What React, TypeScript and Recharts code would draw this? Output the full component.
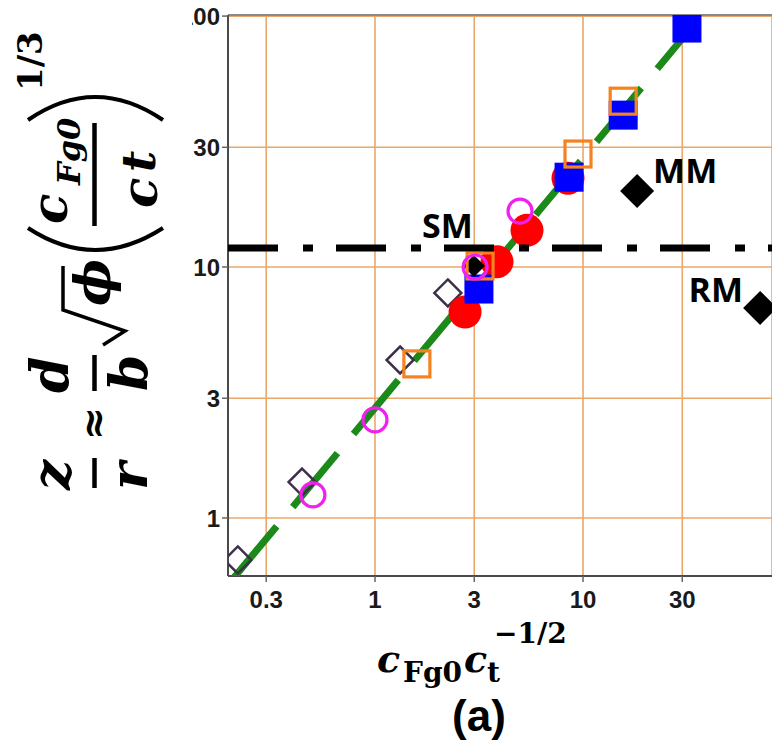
import React from 'react';
import { ScatterChart, Scatter, XAxis, YAxis, CartesianGrid, ReferenceLine } from 'recharts';

// ---- axes ----
const xTicks = [0.3, 1, 3, 10, 30];
const yTicks = [1, 3, 10, 30, 100];
const xDomain = [0.1965, 81];
const yDomain = [0.587, 101];

// ---- series ----
const openDiamondX = [0.219, 0.446, 1.32, 2.24];
const openDiamondY = [0.68, 1.39, 4.26, 7.88];

const openCircleX = [0.503, 1.0, 3.03, 4.98];
const openCircleY = [1.235, 2.46, 10.0, 16.7];

const redCircleX = [2.71, 3.86, 5.38, 8.47];
const redCircleY = [6.62, 10.5, 14.0, 22.6];

const blueSquareX = [3.16, 8.57, 15.6, 31.6];
const blueSquareY = [8.17, 22.8, 40.3, 89.6];

const openSquareX = [1.59, 3.2, 9.46, 15.6];
const openSquareY = [4.11, 10.1, 28.2, 45.8];

const modelLabels = ['SM', 'MM', 'RM'];
const modelX = [2.99, 18.2, 71];
const modelY = [10.1, 20.1, 6.87];

const fitX = [0.2053, 31.0];
const fitY = [0.566, 84];

const smLevelX = [0.1965, 81];
const smLevelY = [11.9, 11.9];

const pts = (xs: number[], ys: number[]) => xs.map((x, i) => ({ x, y: ys[i] }));

const openDiamondData = pts(openDiamondX, openDiamondY);
const openCircleData = pts(openCircleX, openCircleY);
const redCircleData = pts(redCircleX, redCircleY);
const blueSquareData = pts(blueSquareX, blueSquareY);
const openSquareData = pts(openSquareX, openSquareY);
const fitData = pts(fitX, fitY);
const smLevelData = pts(smLevelX, smLevelY);
const modelData = modelLabels.map((label, i) => ({ x: modelX[i], y: modelY[i], label }));

const modelStyle: Record<string, { half: number; dx: number; dy: number; anchor: 'start' | 'end' }> = {
  SM: { half: 11, dx: -52, dy: -28, anchor: 'start' },
  MM: { half: 17, dx: 16, dy: -8, anchor: 'start' },
  RM: { half: 17, dx: -17, dy: -6, anchor: 'end' },
};

// ---- shapes ----
const diamondPath = (cx: number, cy: number, h: number) =>
  `M${cx},${cy - h} L${cx + h},${cy} L${cx},${cy + h} L${cx - h},${cy} Z`;

const OpenDiamond = (p: any) => (
  <path d={diamondPath(p.cx, p.cy, 13.5)} fill="none" stroke="#3e3048" strokeWidth={2.5} />
);
const OpenCircle = (p: any) => (
  <circle cx={p.cx} cy={p.cy} r={12} fill="none" stroke="#f020ee" strokeWidth={3.2} />
);
const RedCircle = (p: any) => <circle cx={p.cx} cy={p.cy} r={16.5} fill="#ff0000" />;
const BlueSquare = (p: any) => (
  <rect x={p.cx - 14.5} y={p.cy - 14.5} width={29} height={29} fill="#0000ff" />
);
const OpenSquare = (p: any) => (
  <rect x={p.cx - 13} y={p.cy - 13} width={26} height={26} fill="none" stroke="#f5821f" strokeWidth={3.2} />
);
const ModelDiamond = (p: any) => {
  const s = modelStyle[p.payload.label];
  return (
    <g>
      <path d={diamondPath(p.cx, p.cy, s.half)} fill="#000" />
      <text
        x={p.cx + s.dx}
        y={p.cy + s.dy}
        textAnchor={s.anchor}
        fontFamily="'Open Sans', sans-serif"
        fontWeight="bold"
        fontSize={34}
        fill="#000"
      >
        {p.payload.label}
      </text>
    </g>
  );
};
const NoShape = () => <g />;

// ---- ticks ----
const tickFont = "'Liberation Sans', Arial, sans-serif";
const XTick = (p: any) => (
  <text x={p.x} y={p.y + 24} textAnchor="middle" fontFamily={tickFont} fontWeight="bold" fontSize={24} fill="#1a1a1a">
    {String(p.payload.value)}
  </text>
);
const YTick = (p: any) => (
  <text
    x={p.x}
    y={p.y + 9}
    textAnchor="end"
    fontFamily={tickFont}
    fontWeight="bold"
    fontSize={24}
    fill="#1a1a1a"
    clipPath="url(#ytickclip)"
  >
    {String(p.payload.value)}
  </text>
);

// rotated text helper for the y-axis formula (screen X = baseline, Y = start, text runs upward)
const serif = "'DejaVu Serif', serif";
const RT = ({ X, Y, size = 50, italic = true, children }: any) => (
  <text
    transform="rotate(-90)"
    x={-Y}
    y={X}
    fontFamily={serif}
    fontSize={size}
    fontStyle={italic ? 'italic' : 'normal'}
    fontWeight="bold"
    fill="#000"
  >
    {children}
  </text>
);

export default function App() {
  return (
    <div style={{ position: 'absolute', left: 0, top: 0, width: 772, height: 740, background: '#fff', overflow: 'hidden' }}>
      <ScatterChart width={772} height={740} margin={{ top: 15, right: 0, bottom: 0, left: 0 }}>
        <CartesianGrid stroke="#e9a86a" strokeWidth={1.6} />
        <XAxis
          dataKey="x"
          type="number"
          scale="log"
          domain={xDomain}
          allowDataOverflow
          ticks={xTicks}
          interval={0}
          height={164}
          tickSize={6}
          tick={<XTick />}
          axisLine={{ stroke: '#4a4a4a', strokeWidth: 2 }}
          tickLine={{ stroke: '#666', strokeWidth: 1.5 }}
        />
        <YAxis
          dataKey="y"
          type="number"
          scale="log"
          domain={yDomain}
          allowDataOverflow
          ticks={yTicks}
          interval={0}
          width={228}
          tickSize={6}
          tick={<YTick />}
          axisLine={{ stroke: '#4a4a4a', strokeWidth: 2 }}
          tickLine={{ stroke: '#666', strokeWidth: 1.5 }}
        />
        <ReferenceLine y={yDomain[1]} stroke="#8a8a8a" strokeWidth={2} />
        <Scatter
          data={fitData}
          shape={NoShape}
          line={{ stroke: '#1b8a1b', strokeWidth: 7, strokeDasharray: '70 25' }}
          isAnimationActive={false}
        />
        <Scatter data={openDiamondData} shape={OpenDiamond} isAnimationActive={false} />
        <Scatter data={redCircleData} shape={RedCircle} isAnimationActive={false} />
        <Scatter data={blueSquareData} shape={BlueSquare} isAnimationActive={false} />
        <Scatter data={modelData} shape={ModelDiamond} isAnimationActive={false} />
        <Scatter data={openSquareData} shape={OpenSquare} isAnimationActive={false} />
        <Scatter data={openCircleData} shape={OpenCircle} isAnimationActive={false} />
        <Scatter
          data={smLevelData}
          shape={NoShape}
          line={{ stroke: '#000', strokeWidth: 7, strokeDasharray: '50 25 10 23' }}
          isAnimationActive={false}
        />
      </ScatterChart>

      <svg width={772} height={740} style={{ position: 'absolute', left: 0, top: 0, pointerEvents: 'none' }}>
        <defs>
          <clipPath id="ytickclip" clipPathUnits="userSpaceOnUse">
            <rect x={192} y={0} width={60} height={740} />
          </clipPath>
        </defs>

        {/* y-axis formula: z/r ≈ d/b √ϕ (c_Fg0 / c_t)^(1/3) */}
        <RT X={70} Y={490} size={53}>z</RT>
        <line x1={94.5} y1={458} x2={94.5} y2={488} stroke="#000" strokeWidth={4.5} />
        <RT X={147} Y={490} size={53}>r</RT>
        <RT X={107} Y={440} size={40} italic={false}>≈</RT>
        <RT X={68} Y={393} size={52}>d</RT>
        <line x1={94.5} y1={355} x2={94.5} y2={391} stroke="#000" strokeWidth={4.5} />
        <RT X={147} Y={391} size={52}>b</RT>
        <path d="M103,345 L125,331 L63,310 L63,266" fill="none" stroke="#000" strokeWidth={3.5} strokeLinejoin="miter" />
        <RT X={110} Y={306}>ϕ</RT>
        <path d="M28,228 Q95,272 163,228" fill="none" stroke="#000" strokeWidth={4} />
        <RT X={67} Y={224}>c</RT>
        <RT X={80} Y={185} size={32}>Fg0</RT>
        <line x1={94.5} y1={123} x2={94.5} y2={226} stroke="#000" strokeWidth={4.5} />
        <RT X={157} Y={208}>c</RT>
        <RT X={155} Y={172} size={46}>t</RT>
        <path d="M28,120 Q95,74 163,120" fill="none" stroke="#000" strokeWidth={4} />
        <RT X={42} Y={91} size={34} italic={false}>1/3</RT>

        {/* x-axis label: c_Fg0 c_t^(-1/2) */}
        <text fontFamily={serif} fontWeight="bold" fill="#000">
          <tspan x={377} y={672} fontSize={38} fontStyle="italic">c</tspan>
          <tspan x={403} y={682} fontSize={28}>Fg0</tspan>
          <tspan x={464} y={672} fontSize={38} fontStyle="italic">c</tspan>
          <tspan x={487} y={682} fontSize={28}>t</tspan>
          <tspan x={494} y={643} fontSize={28}>−1/2</tspan>
        </text>

        <text x={479} y={730.5} textAnchor="middle" fontFamily="'Liberation Sans', Arial, sans-serif" fontSize={44} fontWeight="bold">(a)</text>
      </svg>
    </div>
  );
}
